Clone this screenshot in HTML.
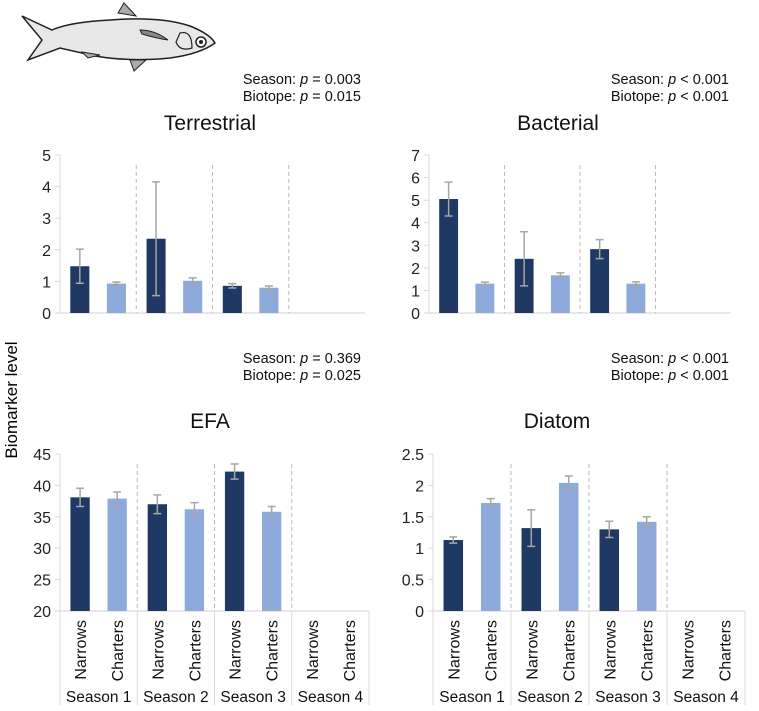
<!DOCTYPE html>
<html><head><meta charset="utf-8">
<style>
body{margin:0;background:#fff;}
svg{display:block;font-family:"Liberation Sans",Arial,sans-serif;}
</style></head>
<body>
<svg id="c" width="759" height="711" viewBox="0 0 759 711">
  <g>
    <path d="M22,16 L52,30 Q70,22 110,20 Q160,16 190,26 Q210,34 215,43 Q200,54 170,58 Q130,62 95,56 L60,48 L28,60 L42,40 Z" fill="#e8e8e8" stroke="#222" stroke-width="1.5"/>
    <path d="M118,13 L124,3 L136,16 Z" fill="#aaa" stroke="#222" stroke-width="1"/>
    <path d="M130,60 L134,71 L146,60 Z" fill="#aaa" stroke="#222" stroke-width="1"/>
    <path d="M82,52 L88,58 L100,55 Z" fill="#aaa" stroke="#222" stroke-width="1"/>
    <path d="M140,30 Q155,30 168,40 Q155,38 142,34 Z" fill="#888" stroke="#222" stroke-width="1"/>
    <circle cx="201" cy="42" r="5" fill="#fff" stroke="#222" stroke-width="1.5"/>
    <circle cx="201" cy="42" r="2" fill="#222"/>
    <path d="M180,33 Q192,30 192,48 Q180,52 176,42 Z" fill="none" stroke="#222" stroke-width="1.2"/>
  </g>
  <text x="17" y="400" transform="rotate(-90 17 400)" text-anchor="middle" font-size="17">Biomarker level</text>
</svg>
<script>
const categories = ["Narrows","Charters"];
const seasons = ["Season 1","Season 2","Season 3","Season 4"];
const terrestrialMean = [1.48,0.93,2.35,1.02,0.86,0.80];
const terrestrialErr = [0.54,0.05,1.80,0.09,0.07,0.055];
const terrestrialTicks = ["0","1","2","3","4","5"];
const bacterialMean = [5.05,1.30,2.40,1.67,2.83,1.30];
const bacterialErr = [0.75,0.07,1.20,0.11,0.42,0.08];
const bacterialTicks = ["0","1","2","3","4","5","6","7"];
const efaMean = [38.1,37.9,37.0,36.2,42.2,35.8];
const efaErr = [1.45,1.05,1.5,1.05,1.2,0.85];
const efaTicks = ["20","25","30","35","40","45"];
const diatomMean = [1.13,1.72,1.32,2.04,1.30,1.42];
const diatomErr = [0.05,0.07,0.29,0.11,0.13,0.08];
const diatomTicks = ["0","0.5","1","1.5","2","2.5"];

const NS="http://www.w3.org/2000/svg";
const svg=document.getElementById('c');
function mk(tag,attrs,parent){const e=document.createElementNS(NS,tag);for(const k in attrs)e.setAttribute(k,attrs[k]);(parent||svg).appendChild(e);return e;}

const panels=[
 {name:'terrestrial',title:'Terrestrial',p1:'0.003',p2:'0.015',op:'=',mean:terrestrialMean,err:terrestrialErr,ticks:terrestrialTicks,x0:60,x1:365,top:155,bot:313,pRight:361,tBase:130,pBase:84,cats:false,cx:210},
 {name:'bacterial',title:'Bacterial',p1:'0.001',p2:'0.001',op:'<',mean:bacterialMean,err:bacterialErr,ticks:bacterialTicks,x0:429,x1:731,top:155,bot:313,pRight:729,tBase:130,pBase:84,cats:false,cx:558},
 {name:'efa',title:'EFA',p1:'0.369',p2:'0.025',op:'=',mean:efaMean,err:efaErr,ticks:efaTicks,x0:60,x1:369,top:454,bot:611,pRight:361,tBase:428,pBase:363,cats:true,cx:210},
 {name:'diatom',title:'Diatom',p1:'0.001',p2:'0.001',op:'<',mean:diatomMean,err:diatomErr,ticks:diatomTicks,x0:433,x1:745,top:454,bot:611,pRight:729,tBase:428,pBase:363,cats:true,cx:557}
];

panels.forEach(P=>{
 const g=mk('g',{});
 
 
 const lo=parseFloat(P.ticks[0]), hi=parseFloat(P.ticks[P.ticks.length-1]);
 const y=v=>P.bot-(v-lo)/(hi-lo)*(P.bot-P.top);
 const sw=(P.x1-P.x0)/4;
 const t1=mk('text',{x:P.pRight,y:P.pBase,'text-anchor':'end','font-size':14.5,fill:'#111'},g);
 
 
 t1.innerHTML='Season: <tspan font-style="italic">p</tspan> '+P.op+' '+P.p1;
 const t2=mk('text',{x:P.pRight,y:P.pBase+17,'text-anchor':'end','font-size':14.5,fill:'#111'},g);
 
 
 t2.innerHTML='Biotope: <tspan font-style="italic">p</tspan> '+P.op+' '+P.p2;
 const tt=mk('text',{x:P.cx,y:P.tBase,'text-anchor':'middle','font-size':21,fill:'#111'},g);
 
 
 tt.textContent=P.title;
 const ax=mk('line',{x1:P.x0,y1:P.top,x2:P.x0,y2:P.bot,stroke:'#d9d9d9','stroke-width':1},g);
 
 
 P.ticks.forEach(tk=>{
  const v=parseFloat(tk);
  mk('line',{x1:P.x0-5,y1:y(v),x2:P.x0,y2:y(v),stroke:'#d9d9d9'},g);
  const tl=mk('text',{x:P.x0-9,y:y(v)+6,'text-anchor':'end','font-size':16,fill:'#222'},g);
  
  
  tl.textContent=tk;
 });
 const base=mk('line',{x1:P.x0,y1:P.bot,x2:P.x1,y2:P.bot,stroke:'#d9d9d9','stroke-width':1.2},g);
 
 
 for(let s=1;s<4;s++){
  const d=mk('line',{x1:P.x0+s*sw,y1:P.top+10,x2:P.x0+s*sw,y2:P.bot,stroke:'#bbb','stroke-dasharray':'4,3'},g);
  
  
 }
 P.mean.forEach((m,i)=>{
  const s=Math.floor(i/2), c=i%2;
  const cxb=P.x0+s*sw+sw*(c?0.74:0.26);
  const bw=sw*0.25;
  const r=mk('rect',{x:cxb-bw/2,y:y(m),width:bw,height:P.bot-y(m),fill:c?'#8eaadb':'#1f3864'},g);
  
  
  const e=P.err[i], hiV=y(m+e), loV=y(m-e);
  const eb=mk('path',{d:`M${cxb},${hiV}V${loV}M${cxb-4},${hiV}H${cxb+4}M${cxb-4},${loV}H${cxb+4}`,stroke:'#a6a6a6','stroke-width':1.5,fill:'none'},g);
  
  
 });
 if(P.cats){
  for(let s=0;s<=4;s++){
   mk('line',{x1:P.x0+s*sw,y1:P.bot,x2:P.x0+s*sw,y2:705,stroke:'#d9d9d9'},g);
  }
  for(let s=0;s<4;s++){
   categories.forEach((cn,c)=>{
    const cxb=P.x0+s*sw+sw*(c?0.74:0.26);
    const ct=mk('text',{x:cxb+6,y:620,'text-anchor':'end','font-size':16,fill:'#111',transform:`rotate(-90 ${cxb+6} 620)`},g);
    
    
    ct.textContent=cn;
   });
   const st=mk('text',{x:P.x0+s*sw+sw/2,y:702,'text-anchor':'middle','font-size':15.5,fill:'#111'},g);
   
   
   st.textContent=seasons[s];
  }
 }
});
</script>
</body></html>
